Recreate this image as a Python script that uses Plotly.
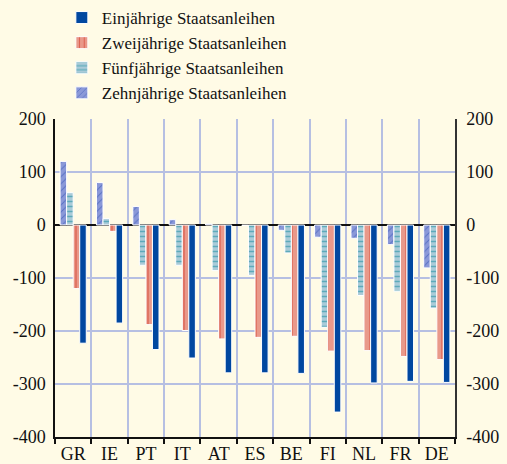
import plotly.graph_objects as go

countries = ["GR", "IE", "PT", "IT", "AT", "ES", "BE", "FI", "NL", "FR", "DE"]
ten_year = [120, 80, 35, 10, 2, -1, -10, -23, -25, -37, -81]
five_year = [61, 12, -76, -76, -86, -95, -53, -193, -133, -125, -157]
two_year = [-120, -12, -188, -199, -215, -212, -210, -238, -237, -248, -254]
one_year = [-223, -185, -235, -251, -279, -279, -280, -353, -298, -295, -297]
y_ticks = [-400, -300, -200, -100, 0, 100, 200]
y_labels = ["-400", "-300", "-200", "-100", "0", "100", "200"]

names = ["Zehnjährige Staatsanleihen", "Fünfjährige Staatsanleihen",
         "Zweijährige Staatsanleihen", "Einjährige Staatsanleihen"]
series = [ten_year, five_year, two_year, one_year]
fills = ["#8a98d8", "#aacbd8", "#e9998a", "#0047a0"]
patterns = [
    dict(shape="/", fgcolor="#2a4cb0", size=5, solidity=0.2),
    dict(shape="-", fgcolor="#0f8a9c", size=5, solidity=0.3),
    dict(shape="|", fgcolor="#d02818", size=6, solidity=0.22),
    dict(shape=""),
]

BG = "#fffbe6"
GRID = "#b6bfe2"
FONT = "Liberation Serif, Times New Roman, serif"

fig = go.Figure()
for name, vals, col, pat in zip(names, series, fills, patterns):
    fig.add_trace(go.Bar(
        x=countries, y=vals, name=name,
        marker=dict(color=col, pattern=pat, line=dict(color="white", width=1)),
    ))

# invisible trace so the mirrored right-hand axis is drawn
fig.add_trace(go.Scatter(x=[countries[0]], y=[0], yaxis="y2", mode="markers",
                         marker=dict(opacity=0), showlegend=False, hoverinfo="skip"))

axis_y = dict(
    automargin=False, range=[-400, 200],
    tickmode="array", tickvals=y_ticks, ticktext=y_labels,
    ticks="", tickfont=dict(size=18),
)

fig.update_layout(
    width=507, height=464,
    margin=dict(l=55, r=52, t=119, b=27, autoexpand=False),
    paper_bgcolor=BG, plot_bgcolor=BG,
    font=dict(family=FONT, size=18, color="#111111"),
    barmode="group", bargap=0.28, bargroupgap=0,
    showlegend=True,
    legend=dict(
        xref="container", yref="container",
        x=0.122, y=1.006, xanchor="left", yanchor="top",
        traceorder="reversed", bgcolor="rgba(0,0,0,0)",
        font=dict(family=FONT, size=17, color="#111111"),
        itemwidth=30, tracegroupgap=0,
    ),
    xaxis=dict(
        automargin=False, range=[-0.5, len(countries) - 0.5],
        tickson="boundaries", showgrid=True, gridcolor=GRID, gridwidth=1.5,
        showline=True, linecolor="#111111", linewidth=1.5,
        ticks="outside", ticklen=5, tickcolor="#111111", tickwidth=1.5,
        tickfont=dict(size=18),
    ),
    yaxis=dict(
        **axis_y,
        showgrid=True, gridcolor=GRID, gridwidth=1.5,
        zeroline=True, zerolinecolor="#111111", zerolinewidth=1.5,
        showline=True, linecolor="#111111", linewidth=1.5,
        ticklabelstandoff=4,
    ),
    yaxis2=dict(
        **axis_y,
        overlaying="y", side="right", matches="y",
        showgrid=False, zeroline=False,
        showline=True, linecolor="#333333", linewidth=1.5,
        ticklabelstandoff=6,
    ),
)

fig.write_html("out.html")
